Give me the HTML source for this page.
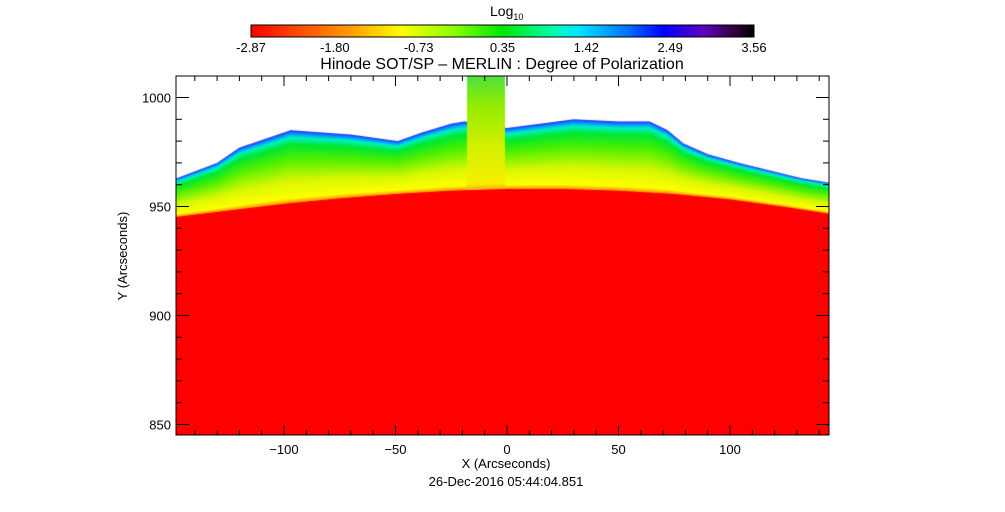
<!DOCTYPE html>
<html><head><meta charset="utf-8"><style>
html,body{margin:0;padding:0;background:#fff;}
#wrap{position:relative;width:1005px;height:512px;overflow:hidden;font-family:"Liberation Sans",sans-serif;}
canvas,svg{position:absolute;left:0;top:0;}
</style></head><body>
<div id="wrap">
<canvas id="img" width="1005" height="512"></canvas>
<svg id="ax" width="1005" height="512"></svg>
</div>
<script>
// data
const limbX = [-148,-120,-100,-75,-50,-25,0,25,50,75,100,125,144];
const limbY = [945.5,949,951.5,954,956,957.5,958.3,958.3,957.5,956,953.5,950,947];
const topX = [-148,-130,-120,-97,-70,-49,-38,-25,-19,0,15,30,50,64,72,79,90,104,120,132,144];
const topY = [963,970,977,985,983,980,984,988,989,986,988,990,989,989,985,979,974,970,966,963,961];
const jetX = [-18,-1];
const cbLabels = ["-2.87","-1.80","-0.73","0.35","1.42","2.49","3.56"];
const xTicks = [-100,-50,0,50,100];
const yTicks = [850,900,950,1000];

const PL=176,PR=829,PT=76,PB=435;
const X0=507, XS=2.23;
const Y950=206.5, YS=2.18;
const sx=v=>X0+v*XS;
const sy=v=>Y950-(v-950)*YS;
function interp(xs,ys,x){
  if(x<=xs[0])return ys[0];
  for(let i=1;i<xs.length;i++){if(x<=xs[i]){const t=(x-xs[i-1])/(xs[i]-xs[i-1]);return ys[i-1]+t*(ys[i]-ys[i-1]);}}
  return ys[ys.length-1];
}
const cv=document.getElementById('img');const c=cv.getContext('2d');
for(let px=PL;px<PR;px++){
  const x=(px+0.5-X0)/XS;
  const ly=sy(interp(limbX,limbY,x));
  const inJet = x>=jetX[0]&&x<=jetX[1];
  const ty=inJet?PT:sy(interp(topX,topY,x));
  c.fillStyle='#ff0000';c.fillRect(px,ly,1,PB-ly);
  const g=c.createLinearGradient(0,ly,0,ty);
  if(inJet){
    g.addColorStop(0,'#ffb000');g.addColorStop(0.05,'#f8f000');g.addColorStop(0.4,'#d0f000');
    g.addColorStop(0.75,'#90ec00');g.addColorStop(1,'#50e040');
  } else {
    g.addColorStop(0,'#ffa000');g.addColorStop(0.06,'#ffff00');g.addColorStop(0.3,'#d8f800');
    g.addColorStop(0.6,'#50f000');g.addColorStop(0.8,'#00e830');g.addColorStop(0.9,'#00f0c0');
    g.addColorStop(0.96,'#0090ff');g.addColorStop(1,'#3020ff');
  }
  c.fillStyle=g;c.fillRect(px,ty,1,ly-ty+0.5);
}
// colorbar
const cb=c.createLinearGradient(251,0,754,0);
[['#ff0000',0],['#ff5000',0.1],['#ffa000',0.2],['#ffff00',0.3],['#90ff00',0.4],['#00e800',0.5],['#00ffb0',0.6],['#00e8ff',0.65],['#0070ff',0.75],['#0000ff',0.82],['#6000c0',0.9],['#300040',0.96],['#000000',1]].forEach(s=>cb.addColorStop(s[1],s[0]));
c.fillStyle=cb;c.fillRect(251,25,503,12);

const NS='http://www.w3.org/2000/svg';const svg=document.getElementById('ax');
function mk(t,a,txt){const e=document.createElementNS(NS,t);for(const k in a)e.setAttribute(k,a[k]);if(txt!==undefined)e.textContent=txt;svg.appendChild(e);return e;}
let e;
e=mk('rect',{x:251,y:25,width:503,height:12,fill:'none',stroke:'#000','stroke-width':1});


cbLabels.forEach((l,i)=>{
  e=mk('text',{x:251+i*503/6,y:52,'text-anchor':'middle','font-size':13,fill:'#000'},l);
  
  
});
e=mk('text',{x:490,y:16,'font-size':14,fill:'#000'});e.innerHTML='Log<tspan font-size="9" dy="4">10</tspan>';


e=mk('text',{x:502,y:69,'text-anchor':'middle','font-size':16,fill:'#000'},'Hinode SOT/SP \u2013 MERLIN : Degree of Polarization');


e=mk('rect',{x:PL,y:PT,width:PR-PL,height:PB-PT,fill:'none',stroke:'#000','stroke-width':1});


for(let v=-140;v<=140;v+=10){
  const major=v%50===0;const L=major?10:5;const p=sx(v);
  mk('line',{x1:p,x2:p,y1:PB,y2:PB-L,stroke:'#000'});
  mk('line',{x1:p,x2:p,y1:PT,y2:PT+L,stroke:'#000'});
}
xTicks.forEach(v=>{
  e=mk('text',{x:sx(v),y:PB+19,'text-anchor':'middle','font-size':13,fill:'#000'},String(v).replace('-','\u2212'));
  
  
});
for(let v=850;v<=1000;v+=10){
  const major=v%50===0;const L=major?13:6;const p=sy(v);
  mk('line',{x1:PL,x2:PL+L,y1:p,y2:p,stroke:'#000'});
  mk('line',{x1:PR,x2:PR-L,y1:p,y2:p,stroke:'#000'});
}
yTicks.forEach(v=>{
  e=mk('text',{x:171,y:sy(v)+5,'text-anchor':'end','font-size':13,fill:'#000'},String(v));
  
  
});
e=mk('text',{x:506,y:468,'text-anchor':'middle','font-size':13,fill:'#000'},'X (Arcseconds)');


e=mk('text',{x:506,y:486,'text-anchor':'middle','font-size':13,fill:'#000'},'26-Dec-2016 05:44:04.851');


e=mk('text',{x:0,y:0,'text-anchor':'middle','font-size':13,fill:'#000',transform:'translate(127,256) rotate(-90)'},'Y (Arcseconds)');


</script>
</body></html>
